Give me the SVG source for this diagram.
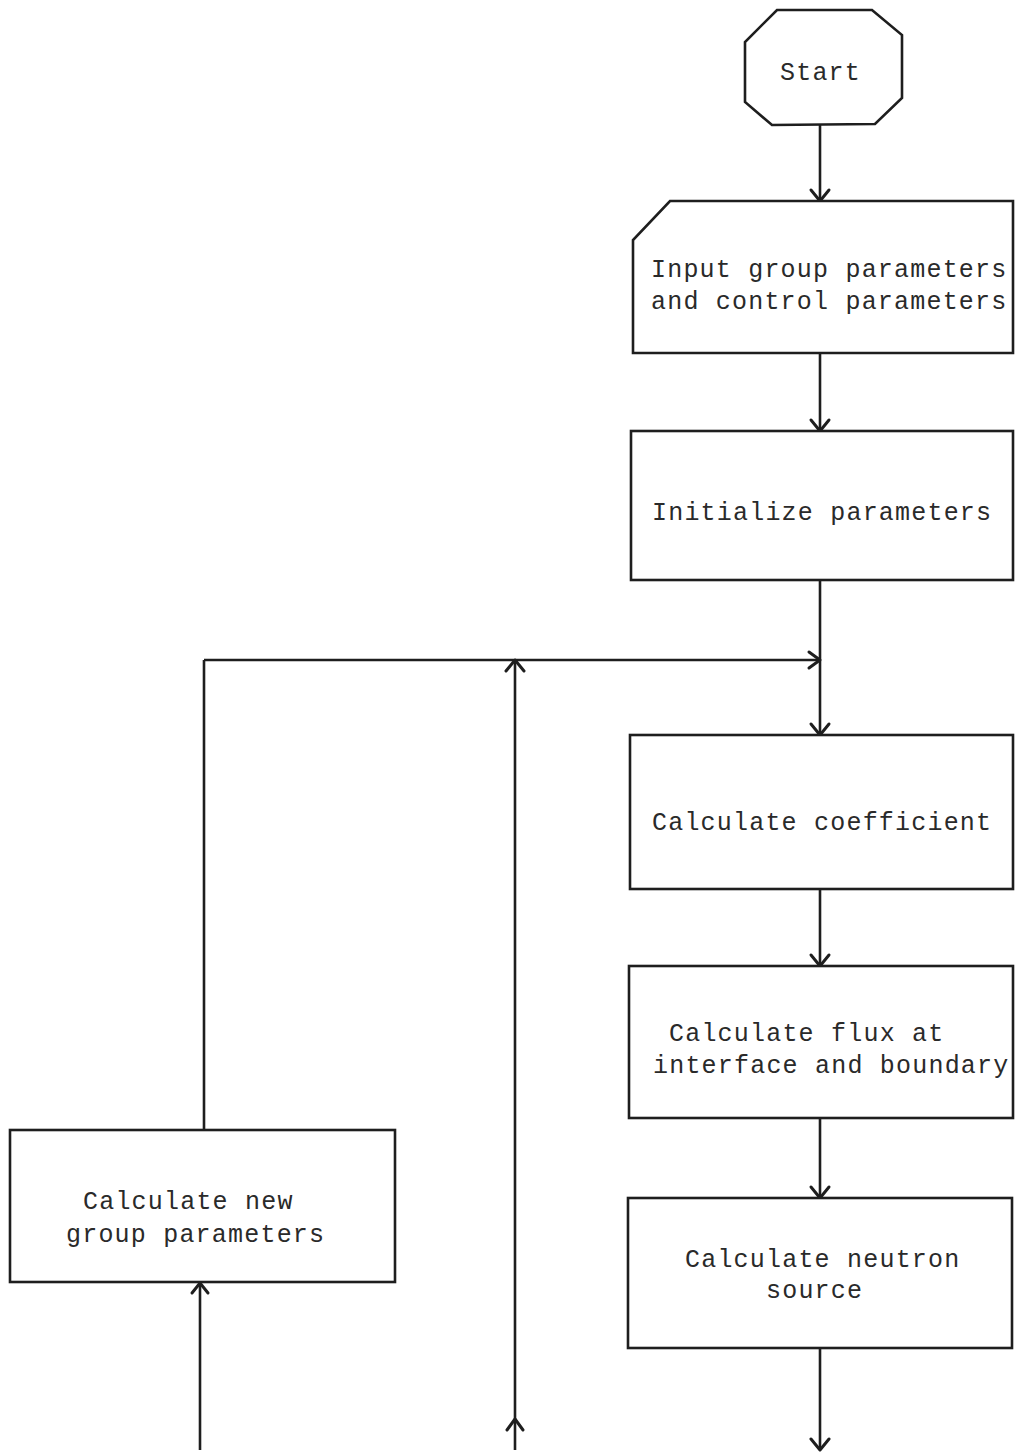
<svg xmlns="http://www.w3.org/2000/svg" width="1015" height="1452" viewBox="0 0 1015 1452">
<defs>
<style>
.n{fill:#fff;stroke:#1e1e1e;stroke-width:2.6;stroke-linejoin:miter}
.c{fill:none;stroke:#1e1e1e;stroke-width:2.6}
.h{fill:none;stroke:#1e1e1e;stroke-width:3;stroke-linecap:round;stroke-linejoin:round}
text{font-family:"Liberation Mono","Courier New",monospace;font-size:25px;letter-spacing:1.2px;fill:#2a2a2a}
</style>
</defs>
<rect width="1015" height="1452" fill="#fff"/>
<g id="connectors">
<line class="c" x1="820" y1="125" x2="820" y2="201"/>
<polyline class="h" points="811,190 820,201 829,190"/>
<line class="c" x1="820" y1="353" x2="820" y2="431"/>
<polyline class="h" points="811,420 820,431 829,420"/>
<line class="c" x1="820" y1="580" x2="820" y2="735"/>
<polyline class="h" points="811,724 820,735 829,724"/>
<line class="c" x1="204" y1="660" x2="820" y2="660"/>
<polyline class="h" points="809,652 820,660 809,668"/>
<line class="c" x1="204" y1="660" x2="204" y2="1130"/>
<line class="c" x1="515" y1="1450" x2="515" y2="660"/>
<polyline class="h" points="506,671 515,660 524,671"/>
<polyline class="h" points="507,1430 515,1419 523,1430"/>
<line class="c" x1="820" y1="889" x2="820" y2="966"/>
<polyline class="h" points="811,955 820,966 829,955"/>
<line class="c" x1="820" y1="1118" x2="820" y2="1198"/>
<polyline class="h" points="811,1187 820,1198 829,1187"/>
<line class="c" x1="820" y1="1348" x2="820" y2="1450"/>
<polyline class="h" points="811,1439 820,1450 829,1439"/>
<line class="c" x1="200" y1="1450" x2="200" y2="1282"/>
<polyline class="h" points="192,1293 200,1283 208,1293"/>
</g>
<g id="start">
<polygon class="n" points="777,10 872,10 902,35 902,98 875,124 772,125 745,102 745,42"/>
<text x="780" y="80">Start</text>
</g>
<g id="input">
<polygon class="n" points="670,201 1013,201 1013,353 633,353 633,240"/>
<text x="651" y="277">Input group parameters</text>
<text x="651" y="309">and control parameters</text>
</g>
<g id="init">
<rect class="n" x="631" y="431" width="382" height="149"/>
<text x="652" y="520">Initialize parameters</text>
</g>
<g id="coef">
<rect class="n" x="630" y="735" width="383" height="154"/>
<text x="652" y="830">Calculate coefficient</text>
</g>
<g id="flux">
<rect class="n" x="629" y="966" width="384" height="152"/>
<text x="669" y="1041">Calculate flux at</text>
<text x="653" y="1073">interface and boundary</text>
</g>
<g id="source">
<rect class="n" x="628" y="1198" width="384" height="150"/>
<text x="685" y="1267">Calculate neutron</text>
<text x="766" y="1298">source</text>
</g>
<g id="newgroup">
<rect class="n" x="10" y="1130" width="385" height="152"/>
<text x="83" y="1209">Calculate new</text>
<text x="66" y="1242">group parameters</text>
</g>
</svg>
